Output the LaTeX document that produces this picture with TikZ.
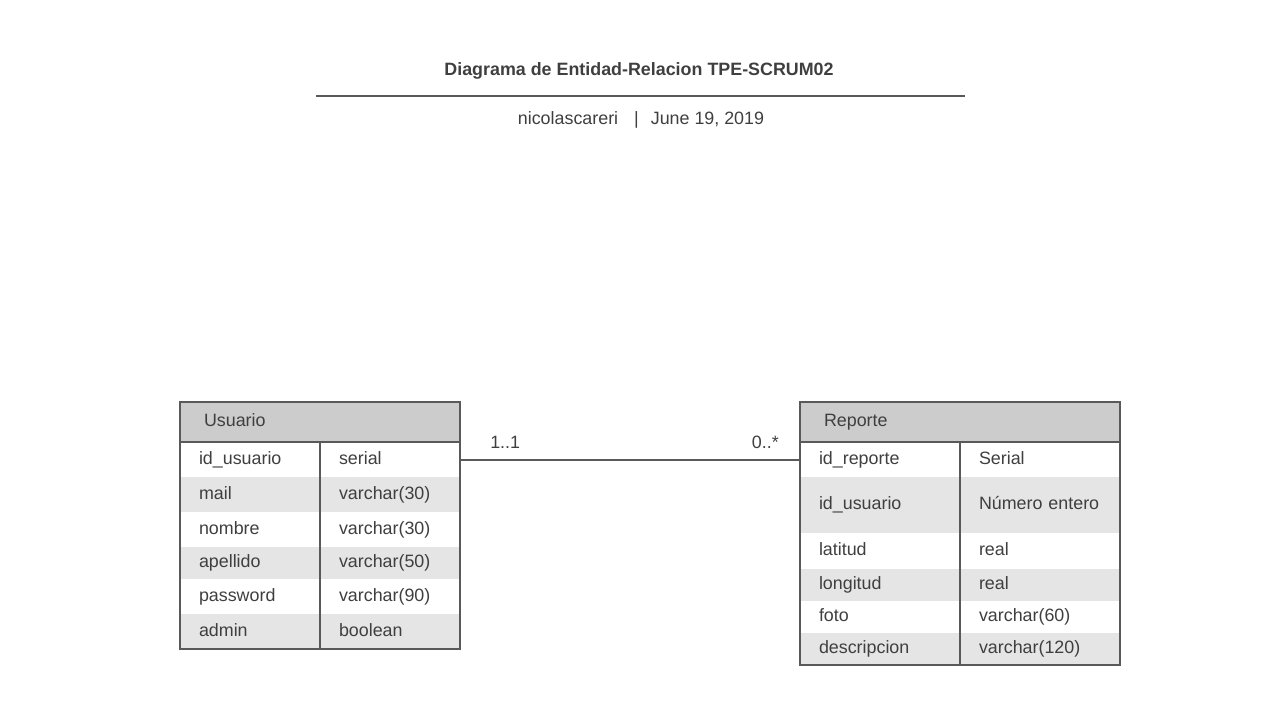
\documentclass[tikz,border=0pt]{standalone}
\usepackage{fontspec}
\setmainfont{Liberation Sans}
\usetikzlibrary{positioning}

\definecolor{erline}{HTML}{595959}
\definecolor{erhead}{HTML}{CCCCCC}
\definecolor{errow}{HTML}{E5E5E5}
\definecolor{ertext}{HTML}{3F3F3F}

\begin{document}
\begin{tikzpicture}[
  x=0.75pt, y=-0.75pt,
  every node/.style={font=\fontsize{13.4}{16}\selectfont, text=ertext},
  cell/.style={rectangle, anchor=north west, inner ysep=0pt, inner xsep=14.25pt,
    outer sep=0pt, align=left, text height=9.6pt, text depth=2.8pt},
  row/.style={minimum height=#1*0.75pt},
  narrow/.style={cell, text width=76.5pt},
  wide/.style={cell, text width=91.5pt},
  shade/.style={fill=errow},
  header/.style={cell, inner xsep=18pt, fill=erhead, minimum height=30pt},
  frame/.style={draw=erline, line width=1.5pt},
  link/.style={draw=erline, line width=1.5pt},
  card/.style={inner sep=0pt}
]
\useasboundingbox (0,0) rectangle (1277,704);

% title block
\node[font=\bfseries\fontsize{13.4}{16}\selectfont] (title) at (639,71) {Diagrama de Entidad-Relacion TPE-SCRUM02};
\coordinate (rule-l) at (316,96);
\coordinate (rule-r) at (965,96);
\draw[link] (rule-l) -- (rule-r);
\node (subtitle) at (641,120) {nicolascareri\hspace{12pt}|\hspace{9pt}June 19, 2019};

% Usuario
\node[header, text width=174pt] (u-head) at (180,402) {Usuario};
\node[narrow, row=35] (u-name1) at (180,442) {id\_usuario};
\node[narrow, row=35, right=0pt of u-name1] (u-type1) {serial};
\node[narrow, row=35, shade, below=0pt of u-name1] (u-name2) {mail};
\node[narrow, row=35, shade, right=0pt of u-name2] (u-type2) {varchar(30)};
\node[narrow, row=35, below=0pt of u-name2] (u-name3) {nombre};
\node[narrow, row=35, right=0pt of u-name3] (u-type3) {varchar(30)};
\node[narrow, row=32, shade, below=0pt of u-name3] (u-name4) {apellido};
\node[narrow, row=32, shade, right=0pt of u-name4] (u-type4) {varchar(50)};
\node[narrow, row=35, below=0pt of u-name4] (u-name5) {password};
\node[narrow, row=35, right=0pt of u-name5] (u-type5) {varchar(90)};
\node[narrow, row=35, shade, below=0pt of u-name5] (u-name6) {admin};
\node[narrow, row=35, shade, right=0pt of u-name6] (u-type6) {boolean};
\draw[frame] (u-head.north west) rectangle (u-type6.south east);
\draw[frame] (u-head.south west) -- (u-head.south east);
\draw[frame] (u-type1.north west) -- (u-type6.south west);

% Reporte
\node[header, text width=204pt] (r-head) at (800,402) {Reporte};
\node[wide, row=35] (r-name1) at (800,442) {id\_reporte};
\node[wide, row=35, right=0pt of r-name1] (r-type1) {Serial};
\node[wide, row=56, shade, below=0pt of r-name1] (r-name2) {id\_usuario};
\node[wide, row=56, shade, right=0pt of r-name2] (r-type2) {Número entero};
\node[wide, row=36, below=0pt of r-name2] (r-name3) {latitud};
\node[wide, row=36, right=0pt of r-name3] (r-type3) {real};
\node[wide, row=32, shade, below=0pt of r-name3] (r-name4) {longitud};
\node[wide, row=32, shade, right=0pt of r-name4] (r-type4) {real};
\node[wide, row=32, below=0pt of r-name4] (r-name5) {foto};
\node[wide, row=32, right=0pt of r-name5] (r-type5) {varchar(60)};
\node[wide, row=32, shade, below=0pt of r-name5] (r-name6) {descripcion};
\node[wide, row=32, shade, right=0pt of r-name6] (r-type6) {varchar(120)};
\draw[frame] (r-head.north west) rectangle (r-type6.south east);
\draw[frame] (r-head.south west) -- (r-head.south east);
\draw[frame] (r-type1.north west) -- (r-type6.south west);

% relation
\draw[link] (u-type1.east) -- (r-name1.west);
\node[card, anchor=west] (card-u) at (490,442) {1..1};
\node[card, anchor=east] (card-r) at (779,442) {0..*};
\end{tikzpicture}
\end{document}
